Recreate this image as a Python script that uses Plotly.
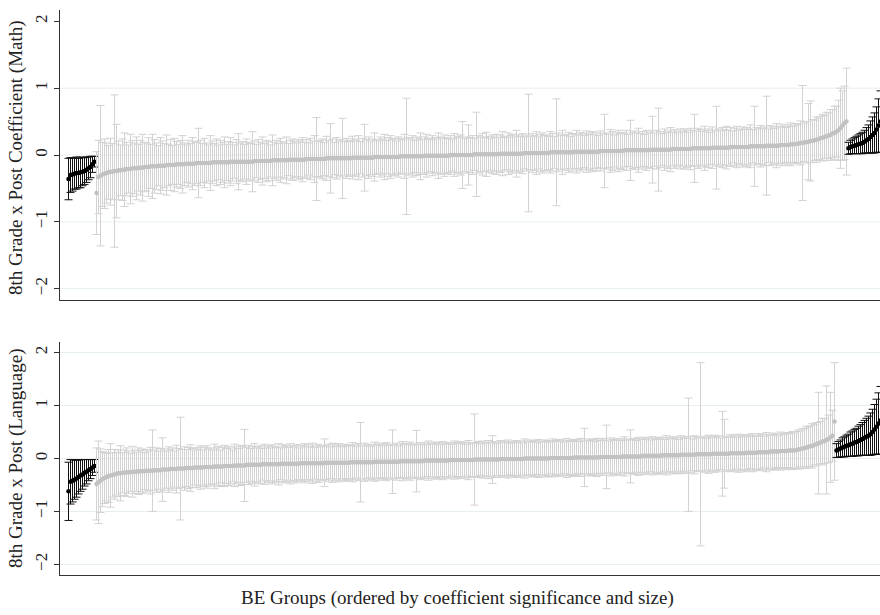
import numpy as np
import plotly.graph_objects as go

# ---------------- Math panel ----------------
math_neg_coef = [-0.36,-0.30,-0.29,-0.28,-0.27,-0.27,-0.26,-0.25,-0.24,-0.22,-0.20,-0.18,-0.14,-0.10]
math_neg_hw = [0.31,0.26,0.25,0.23,0.24,0.22,0.23,0.21,0.20,0.19,0.17,0.16,0.12,0.08]

math_ns_coef = [
 -0.57,-0.33,-0.31,-0.29,-0.28,-0.27,-0.26,-0.25,-0.25,-0.24,-0.24,-0.23,-0.23,-0.22,-0.22,-0.21,-0.21,-0.21,-0.20,-0.20,-0.20,-0.19,-0.19,-0.19,-0.18,
 -0.18,-0.18,-0.17,-0.17,-0.17,-0.17,-0.16,-0.16,-0.16,-0.16,-0.15,-0.15,-0.15,-0.15,-0.15,-0.14,-0.14,-0.14,-0.14,-0.14,-0.13,-0.13,-0.13,-0.13,-0.13,
 -0.12,-0.12,-0.12,-0.12,-0.12,-0.12,-0.12,-0.12,-0.11,-0.11,-0.11,-0.11,-0.11,-0.11,-0.11,-0.11,-0.11,-0.10,-0.10,-0.10,-0.10,-0.10,-0.10,-0.10,-0.10,
 -0.10,-0.10,-0.10,-0.10,-0.09,-0.09,-0.09,-0.09,-0.09,-0.09,-0.09,-0.09,-0.09,-0.08,-0.08,-0.08,-0.08,-0.08,-0.08,-0.08,-0.08,-0.07,-0.07,-0.07,-0.07,
 -0.07,-0.07,-0.07,-0.07,-0.07,-0.06,-0.06,-0.06,-0.06,-0.06,-0.06,-0.06,-0.06,-0.06,-0.06,-0.05,-0.05,-0.05,-0.05,-0.05,-0.05,-0.05,-0.05,-0.05,-0.05,
 -0.05,-0.05,-0.05,-0.04,-0.04,-0.04,-0.04,-0.04,-0.04,-0.04,-0.04,-0.04,-0.04,-0.04,-0.03,-0.03,-0.03,-0.03,-0.03,-0.03,-0.03,-0.03,-0.03,-0.03,-0.03,
 -0.03,-0.03,-0.02,-0.02,-0.02,-0.02,-0.02,-0.02,-0.02,-0.02,-0.02,-0.02,-0.02,-0.02,-0.01,-0.01,-0.01,-0.01,-0.01,-0.01,-0.01,-0.01,-0.01,-0.01,-0.01,
 -0.01,-0.01,0.00,0.00,0.00,0.00,0.00,0.00,0.00,0.00,0.00,0.00,0.00,0.00,0.01,0.01,0.01,0.01,0.01,0.01,0.01,0.01,0.01,0.01,0.01,
 0.01,0.01,0.02,0.02,0.02,0.02,0.02,0.02,0.02,0.02,0.02,0.02,0.02,0.02,0.03,0.03,0.03,0.03,0.03,0.03,0.03,0.03,0.03,0.03,0.03,
 0.03,0.03,0.04,0.04,0.04,0.04,0.04,0.04,0.04,0.04,0.04,0.04,0.04,0.04,0.05,0.05,0.05,0.05,0.05,0.05,0.05,0.05,0.05,0.05,0.05,
 0.05,0.05,0.06,0.06,0.06,0.06,0.06,0.06,0.06,0.06,0.06,0.06,0.06,0.06,0.07,0.07,0.07,0.07,0.07,0.07,0.07,0.07,0.07,0.07,0.07,
 0.07,0.07,0.08,0.08,0.08,0.08,0.08,0.08,0.08,0.08,0.08,0.08,0.08,0.09,0.09,0.09,0.09,0.09,0.09,0.09,0.09,0.09,0.09,0.10,0.10,
 0.10,0.10,0.10,0.10,0.10,0.10,0.10,0.10,0.11,0.11,0.11,0.11,0.11,0.11,0.11,0.11,0.11,0.12,0.12,0.12,0.12,0.12,0.12,0.12,0.12,
 0.12,0.12,0.13,0.13,0.13,0.13,0.13,0.13,0.13,0.13,0.14,0.14,0.14,0.14,0.14,0.14,0.14,0.15,0.15,0.15,0.15,0.15,0.16,0.16,0.16,
 0.17,0.17,0.18,0.18,0.19,0.19,0.20,0.21,0.21,0.22,0.23,0.24,0.25,0.26,0.27,0.28,0.29,0.30,0.32,0.33,0.35,0.37,0.40,0.44,0.48,
 0.50]
math_ns_hw = [
 0.62,0.55,1.05,0.48,0.52,0.45,0.40,0.50,0.42,1.14,0.70,0.44,0.38,0.46,0.55,0.40,0.36,0.52,0.42,0.38,0.47,0.35,0.41,0.50,0.37,
 0.36,0.44,0.33,0.48,0.40,0.35,0.30,0.42,0.37,0.33,0.45,0.31,0.38,0.29,0.40,0.34,0.30,0.36,0.43,0.32,0.28,0.35,0.30,0.39,0.33,
 0.31,0.52,0.34,0.29,0.37,0.30,0.27,0.41,0.32,0.28,0.35,0.26,0.33,0.30,0.38,0.27,0.31,0.36,0.29,0.25,0.33,0.42,0.28,0.30,0.26,
 0.34,0.29,0.27,0.45,0.30,0.25,0.32,0.28,0.36,0.26,0.31,0.29,0.24,0.38,0.27,0.30,0.25,0.33,0.28,0.26,0.35,0.24,0.29,0.31,0.27,
 0.25,0.30,0.28,0.33,0.26,0.29,0.24,0.31,0.27,0.35,0.62,0.26,0.28,0.30,0.25,0.33,0.27,0.52,0.29,0.24,0.31,0.26,0.28,0.60,0.25,
 0.30,0.27,0.25,0.32,0.28,0.26,0.33,0.24,0.29,0.50,0.27,0.31,0.25,0.28,0.36,0.26,0.24,0.30,0.27,0.34,0.25,0.29,0.32,0.26,0.28,
 0.24,0.30,0.27,0.25,0.33,0.87,0.28,0.26,0.31,0.24,0.29,0.27,0.35,0.25,0.28,0.32,0.26,0.24,0.30,0.27,0.25,0.34,0.28,0.26,0.31,
 0.27,0.25,0.29,0.24,0.32,0.26,0.28,0.30,0.50,0.25,0.27,0.45,0.26,0.29,0.24,0.63,0.28,0.26,0.31,0.25,0.33,0.27,0.24,0.29,0.26,
 0.30,0.25,0.28,0.33,0.26,0.24,0.31,0.27,0.29,0.25,0.35,0.28,0.26,0.30,0.24,0.27,0.88,0.25,0.29,0.26,0.32,0.24,0.28,0.30,0.26,
 0.27,0.25,0.31,0.28,0.24,0.80,0.29,0.26,0.33,0.25,0.27,0.30,0.24,0.28,0.26,0.32,0.25,0.29,0.27,0.24,0.31,0.26,0.28,0.30,0.25,
 0.28,0.24,0.30,0.26,0.55,0.27,0.25,0.32,0.29,0.24,0.27,0.31,0.26,0.28,0.25,0.30,0.24,0.45,0.27,0.29,0.26,0.33,0.25,0.28,0.24,
 0.30,0.26,0.28,0.50,0.25,0.29,0.62,0.27,0.24,0.31,0.26,0.28,0.33,0.25,0.29,0.27,0.24,0.30,0.26,0.30,0.28,0.25,0.31,0.27,0.51,
 0.26,0.30,0.28,0.25,0.33,0.27,0.29,0.24,0.31,0.26,0.62,0.28,0.25,0.30,0.27,0.32,0.26,0.29,0.24,0.28,0.31,0.25,0.27,0.30,0.26,
 0.29,0.27,0.32,0.25,0.60,0.28,0.26,0.31,0.27,0.29,0.74,0.25,0.30,0.28,0.26,0.33,0.29,0.27,0.31,0.28,0.26,0.30,0.32,0.27,0.29,
 0.30,0.28,0.33,0.86,0.29,0.31,0.57,0.60,0.32,0.30,0.34,0.31,0.33,0.35,0.32,0.36,0.34,0.38,0.36,0.40,0.38,0.45,0.60,0.52,0.55,
 0.80]

math_pos_coef = [0.10,0.12,0.13,0.14,0.15,0.16,0.17,0.18,0.20,0.22,0.24,0.27,0.30,0.33,0.38,0.44,0.50]
math_pos_hw = [0.09,0.10,0.11,0.12,0.13,0.14,0.15,0.16,0.17,0.19,0.21,0.24,0.27,0.30,0.34,0.40,0.46]

# ---------------- Language panel ----------------
lang_neg_coef = [-0.62,-0.44,-0.42,-0.40,-0.38,-0.35,-0.32,-0.30,-0.27,-0.25,-0.22,-0.20,-0.17,-0.14]
lang_neg_hw = [0.55,0.42,0.40,0.37,0.35,0.32,0.30,0.28,0.25,0.23,0.20,0.18,0.15,0.12]

lang_ns_coef = [
 -0.48,-0.45,-0.42,-0.39,-0.37,-0.35,-0.33,-0.32,-0.31,-0.30,-0.29,-0.28,-0.28,-0.27,-0.27,-0.26,-0.26,-0.26,-0.25,-0.25,-0.25,-0.24,-0.24,-0.24,-0.24,
 -0.23,-0.23,-0.23,-0.23,-0.22,-0.22,-0.22,-0.22,-0.21,-0.21,-0.21,-0.21,-0.20,-0.20,-0.20,-0.20,-0.19,-0.19,-0.19,-0.19,-0.18,-0.18,-0.18,-0.18,-0.17,
 -0.17,-0.17,-0.17,-0.17,-0.16,-0.16,-0.16,-0.16,-0.16,-0.15,-0.15,-0.15,-0.15,-0.15,-0.14,-0.14,-0.14,-0.14,-0.14,-0.13,-0.13,-0.13,-0.13,-0.13,-0.13,
 -0.12,-0.12,-0.12,-0.12,-0.12,-0.12,-0.12,-0.12,-0.11,-0.11,-0.11,-0.11,-0.11,-0.11,-0.11,-0.11,-0.11,-0.10,-0.10,-0.10,-0.10,-0.10,-0.10,-0.10,-0.10,
 -0.10,-0.10,-0.09,-0.09,-0.09,-0.09,-0.09,-0.09,-0.09,-0.09,-0.09,-0.09,-0.09,-0.09,-0.08,-0.08,-0.08,-0.08,-0.08,-0.08,-0.08,-0.08,-0.08,-0.08,-0.08,
 -0.08,-0.08,-0.07,-0.07,-0.07,-0.07,-0.07,-0.07,-0.07,-0.07,-0.07,-0.07,-0.07,-0.07,-0.06,-0.06,-0.06,-0.06,-0.06,-0.06,-0.06,-0.06,-0.06,-0.06,-0.06,
 -0.06,-0.06,-0.05,-0.05,-0.05,-0.05,-0.05,-0.05,-0.05,-0.05,-0.05,-0.05,-0.05,-0.05,-0.04,-0.04,-0.04,-0.04,-0.04,-0.04,-0.04,-0.04,-0.04,-0.04,-0.04,
 -0.04,-0.04,-0.03,-0.03,-0.03,-0.03,-0.03,-0.03,-0.03,-0.03,-0.03,-0.03,-0.03,-0.03,-0.02,-0.02,-0.02,-0.02,-0.02,-0.02,-0.02,-0.02,-0.02,-0.02,-0.02,
 -0.02,-0.02,-0.01,-0.01,-0.01,-0.01,-0.01,-0.01,-0.01,-0.01,-0.01,-0.01,-0.01,-0.01,0.00,0.00,0.00,0.00,0.00,0.00,0.00,0.00,0.00,0.00,0.00,
 0.00,0.00,0.01,0.01,0.01,0.01,0.01,0.01,0.01,0.01,0.01,0.01,0.01,0.01,0.02,0.02,0.02,0.02,0.02,0.02,0.02,0.02,0.02,0.02,0.02,
 0.02,0.02,0.03,0.03,0.03,0.03,0.03,0.03,0.03,0.03,0.03,0.03,0.03,0.04,0.04,0.04,0.04,0.04,0.04,0.04,0.04,0.04,0.04,0.05,0.05,
 0.05,0.05,0.05,0.05,0.05,0.05,0.05,0.05,0.06,0.06,0.06,0.06,0.06,0.06,0.06,0.06,0.06,0.07,0.07,0.07,0.07,0.07,0.07,0.07,0.07,
 0.08,0.08,0.08,0.08,0.08,0.08,0.08,0.08,0.09,0.09,0.09,0.09,0.09,0.09,0.09,0.09,0.09,0.10,0.10,0.10,0.10,0.10,0.10,0.10,0.10,
 0.11,0.11,0.11,0.11,0.11,0.11,0.12,0.12,0.12,0.12,0.12,0.12,0.13,0.13,0.13,0.13,0.13,0.14,0.14,0.14,0.14,0.15,0.15,0.15,0.15,
 0.16,0.17,0.18,0.19,0.20,0.21,0.22,0.23,0.24,0.26,0.27,0.29,0.30,0.32,0.33,0.35,0.37,0.40,0.43,0.70]
lang_ns_hw = [
 0.68,0.78,0.60,0.52,0.48,0.45,0.50,0.60,0.42,0.47,0.40,0.44,0.52,0.38,0.43,0.46,0.40,0.36,0.48,0.41,0.37,0.44,0.39,0.42,0.35,
 0.40,0.37,0.44,0.77,0.38,0.42,0.36,0.41,0.60,0.39,0.35,0.43,0.37,0.40,0.34,0.45,0.38,0.97,0.36,0.41,0.35,0.39,0.44,0.37,0.33,
 0.38,0.35,0.41,0.33,0.37,0.40,0.34,0.36,0.32,0.42,0.35,0.38,0.31,0.36,0.39,0.33,0.37,0.34,0.30,0.40,0.35,0.32,0.38,0.36,0.68,
 0.33,0.37,0.31,0.35,0.40,0.32,0.34,0.36,0.30,0.38,0.33,0.35,0.31,0.37,0.34,0.32,0.39,0.30,0.36,0.33,0.35,0.31,0.38,0.34,0.32,
 0.36,0.30,0.34,0.33,0.37,0.31,0.35,0.32,0.38,0.30,0.34,0.36,0.31,0.33,0.45,0.32,0.35,0.30,0.37,0.34,0.31,0.36,0.33,0.30,0.35,
 0.32,0.34,0.31,0.37,0.33,0.30,0.35,0.75,0.32,0.36,0.31,0.34,0.30,0.33,0.37,0.31,0.35,0.32,0.30,0.34,0.36,0.31,0.33,0.60,0.32,
 0.35,0.30,0.33,0.37,0.31,0.34,0.32,0.36,0.30,0.33,0.58,0.31,0.35,0.32,0.34,0.30,0.37,0.33,0.31,0.35,0.32,0.34,0.30,0.36,0.33,
 0.31,0.34,0.32,0.30,0.36,0.33,0.31,0.35,0.32,0.34,0.30,0.37,0.33,0.31,0.86,0.32,0.34,0.30,0.35,0.33,0.31,0.36,0.32,0.45,0.34,
 0.30,0.33,0.35,0.31,0.34,0.32,0.36,0.30,0.33,0.31,0.35,0.32,0.34,0.30,0.37,0.33,0.31,0.35,0.32,0.34,0.30,0.36,0.33,0.31,0.35,
 0.32,0.34,0.30,0.36,0.33,0.31,0.35,0.32,0.34,0.30,0.37,0.33,0.31,0.35,0.32,0.34,0.30,0.36,0.33,0.55,0.31,0.35,0.32,0.34,0.30,
 0.36,0.33,0.31,0.35,0.32,0.60,0.30,0.36,0.33,0.31,0.35,0.32,0.34,0.30,0.37,0.33,0.31,0.50,0.32,0.34,0.30,0.36,0.33,0.31,0.35,
 0.32,0.34,0.30,0.36,0.33,0.31,0.35,0.32,0.34,0.30,0.37,0.33,0.31,0.35,0.32,0.34,0.30,0.36,0.33,0.31,0.35,1.07,0.34,0.30,0.36,
 0.33,0.31,1.73,0.32,0.34,0.30,0.36,0.33,0.31,0.35,0.32,0.34,0.30,0.80,0.65,0.33,0.31,0.35,0.32,0.34,0.30,0.36,0.33,0.31,0.35,
 0.32,0.34,0.30,0.36,0.33,0.31,0.35,0.32,0.34,0.30,0.37,0.33,0.31,0.35,0.32,0.34,0.30,0.36,0.33,0.31,0.35,0.32,0.34,0.36,0.33,
 0.35,0.37,0.34,0.38,0.36,0.40,0.37,0.39,0.42,0.38,0.41,0.96,0.40,0.44,0.42,1.02,0.45,0.85,0.48,1.11]

lang_pos_coef = [0.15,0.17,0.19,0.21,0.22,0.24,0.25,0.27,0.28,0.30,0.31,0.33,0.35,0.37,0.39,0.41,0.43,0.46,0.50,0.55,0.60,0.66,0.72]
lang_pos_hw = [0.13,0.15,0.16,0.18,0.19,0.20,0.21,0.23,0.24,0.25,0.26,0.28,0.29,0.31,0.33,0.35,0.37,0.40,0.43,0.47,0.52,0.58,0.64]

y_ticks = [-2, -1, 0, 1, 2]
y_ticktext = ["\u22122", "\u22121", "0", "1", "2"]
y_title_math = "8th Grade x Post Coefficient (Math)"
y_title_lang = "8th Grade x Post (Language)"
x_title = "BE Groups (ordered by coefficient significance and size)"

FONT = "Liberation Serif, Times New Roman, serif"
GRAY_BAR = "#d2d2d2"
GRAY_MK = "#c2c2c2"
BLACK = "#000000"
AXIS = "#333333"
GRID = "#e6eef0"

fig = go.Figure()


def add_group(coef, hw, start, xa, ya, color_bar, color_mk):
    xs = np.arange(start, start + len(coef))
    fig.add_trace(go.Scatter(
        x=xs, y=coef, mode="markers", xaxis=xa, yaxis=ya,
        marker=dict(size=4.5, color=color_mk, line=dict(width=0)),
        error_y=dict(type="data", array=hw, symmetric=True, color=color_bar,
                     thickness=1, width=4),
        showlegend=False, hoverinfo="skip"))
    return start + len(coef)

# top panel
s = 1
s = add_group(math_neg_coef, math_neg_hw, s, "x", "y", "#111111", BLACK)
s = add_group(math_ns_coef, math_ns_hw, s, "x", "y", GRAY_BAR, GRAY_MK)
s = add_group(math_pos_coef, math_pos_hw, s, "x", "y", "#111111", BLACK)
# bottom panel
s = 1
s = add_group(lang_neg_coef, lang_neg_hw, s, "x2", "y2", "#111111", BLACK)
s = add_group(lang_ns_coef, lang_ns_hw, s, "x2", "y2", GRAY_BAR, GRAY_MK)
s = add_group(lang_pos_coef, lang_pos_hw, s, "x2", "y2", "#111111", BLACK)

W, H = 880, 615
ML, MR, MT, MB = 60, 0, 10, 40
PW, PH = W - ML - MR, H - MT - MB
top_dom = [(575 - 300) / PH, 1.0]
bot_dom = [0.0, (575 - 342) / PH]

xr = [-3.25, 406.75]
xcommon = dict(range=xr, showline=True, linecolor=AXIS, linewidth=1, ticks="",
               showticklabels=False, showgrid=False, zeroline=False, fixedrange=True)
ycommon = dict(tickvals=y_ticks, ticktext=y_ticktext, tickangle=-90,
               showline=True, linecolor=AXIS, linewidth=1, ticks="outside",
               ticklen=5, tickwidth=1, tickcolor=AXIS, showgrid=False,
               zeroline=False, tickfont=dict(family=FONT, size=17, color="#222"))

fig.update_layout(
    width=W, height=H,
    margin=dict(l=ML, r=MR, t=MT, b=MB),
    paper_bgcolor="white", plot_bgcolor="white",
    font=dict(family=FONT, color="#222"),
    xaxis=dict(domain=[0, 1], anchor="y", **xcommon),
    xaxis2=dict(domain=[0, 1], anchor="y2", **xcommon),
    yaxis=dict(domain=top_dom, anchor="x", range=[-2.17, 2.17], **ycommon),
    yaxis2=dict(domain=bot_dom, anchor="x2", range=[-2.2, 2.2], **ycommon),
)

# gridlines
for v in [1, 0, -1, -2]:
    fig.add_shape(type="line", xref="x domain", yref="y", x0=0, x1=1, y0=v, y1=v,
                  line=dict(color=GRID, width=1), layer="below")
for v in [2, 1, 0, -1, -2]:
    fig.add_shape(type="line", xref="x2 domain", yref="y2", x0=0, x1=1, y0=v, y1=v,
                  line=dict(color=GRID, width=1), layer="below")

def py(px):
    return (575 - px) / PH

def pxx(px):
    return (px - ML) / PW

fig.add_annotation(text=y_title_math, xref="paper", yref="paper", x=pxx(16), y=py(158),
                   textangle=-90, showarrow=False, xanchor="center", yanchor="middle",
                   font=dict(family=FONT, size=19, color="#222"))
fig.add_annotation(text=y_title_lang, xref="paper", yref="paper", x=pxx(16), y=py(458),
                   textangle=-90, showarrow=False, xanchor="center", yanchor="middle",
                   font=dict(family=FONT, size=19, color="#222"))
fig.add_annotation(text=x_title, xref="paper", yref="paper", x=pxx(457), y=py(598),
                   showarrow=False, xanchor="center", yanchor="middle",
                   font=dict(family=FONT, size=19, color="#222"))

fig.write_html("out.html")
